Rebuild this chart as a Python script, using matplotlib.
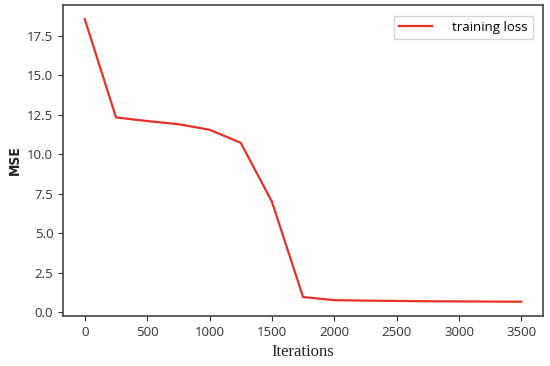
import matplotlib
matplotlib.use("Agg")
from matplotlib import pyplot as plt

iterations = [0, 250, 500, 750, 1000, 1250, 1500, 1750, 2000, 2250, 2500, 2750, 3000, 3250, 3500]
mse = [18.55, 12.33, 12.1, 11.9, 11.55, 10.72, 7.0, 0.95, 0.75, 0.72, 0.7, 0.68, 0.67, 0.66, 0.65]

fig = plt.figure(figsize=(5.5, 3.66), dpi=100)
ax = fig.add_axes([0.1145, 0.137, 0.873, 0.849])

ax.plot(iterations, mse, color="#e8302a", linewidth=1.6, label="training loss")

for s in ax.spines.values():
    s.set_color("#444444")
    s.set_linewidth(1.2)
ax.tick_params(colors="#333333", labelsize=9.5)
for lab in ax.get_xticklabels() + ax.get_yticklabels():
    lab.set_family("Open Sans")

ax.set_xlabel("Iterations", family="Liberation Serif", fontsize=12, color="#222222")
ax.set_ylabel("MSE", family="DejaVu Sans", stretch="condensed", fontweight="bold",
              fontsize=10, color="#222222")

leg = ax.legend(loc="upper right", prop={"family": "Open Sans", "size": 9.5},
                handlelength=2.5, handletextpad=1.5, borderaxespad=0.8)

fig.savefig("out.png", dpi=100)
